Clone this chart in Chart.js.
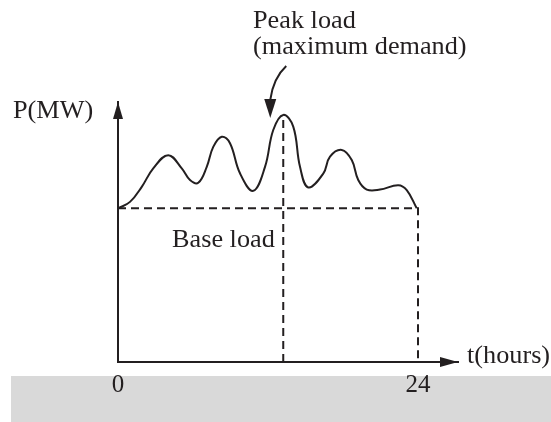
<!DOCTYPE html>
<html>
<head>
<meta charset="utf-8">
<script src="https://cdn.jsdelivr.net/npm/chart.js@4.4.1/dist/chart.umd.min.js"></script>
<style>
  html, body { margin: 0; padding: 0; background: #fff; }
  canvas { display: block; }
</style>
</head>
<body>
<canvas id="load-chart" width="551" height="422"></canvas>
<script>
// Daily load curve (P in arbitrary units, base = 50)
var hours = [0, 0.96, 1.9, 2.82, 4.02, 5.1, 5.76, 6.42, 7.1, 7.62, 8.3, 8.96, 9.76, 10.82,
             11.76, 12.42, 13.22, 14.02, 14.56, 15.22, 16.42, 16.96, 17.9, 18.7, 19.22,
             19.9, 20.96, 22.42, 23.1, 23.9];
var load  = [50, 52.1, 57.0, 63.0, 67.3, 63.0, 59.2, 58.3, 63.5, 70.0, 73.3, 71.2, 61.4, 55.7,
             63.5, 75.5, 80.4, 76.6, 63.5, 56.8, 61.3, 66.8, 69.0, 65.7, 59.2,
             56.1, 56.1, 57.5, 55.9, 50];

var baseLoad = 50;
var peakHour = 13.22;
var peakLoad = 80.4;
var dayEnd = 24;
var tickHours = [0, 24];

var ink = '#231f20';
var serif = '"Liberation Serif", "Times New Roman", serif';

// background band under the time labels
var bandPlugin = {
  id: 'band',
  beforeDraw: function(chart) {
    var c = chart.ctx;
    c.save();
    c.fillStyle = '#d9d9d9';
    c.fillRect(11, chart.chartArea.bottom + 14, chart.width - 11, chart.height);
    c.restore();
  }
};

// text a bit wider than the plain font, like the scan
function label(c, txt, x, y) {
  c.save();
  c.translate(x, y);
  c.scale(1.05, 1);
  c.fillText(txt, 0, 0);
  c.restore();
}

// axis arrows + labels
var notesPlugin = {
  id: 'notes',
  afterDraw: function(chart) {
    var c = chart.ctx;
    var a = chart.chartArea;
    var xs = chart.scales.x, ys = chart.scales.y;
    c.save();
    c.fillStyle = ink;
    c.strokeStyle = ink;

    // y arrow
    c.beginPath();
    c.moveTo(a.left, a.top);
    c.lineTo(a.left - 5, a.top + 17);
    c.lineTo(a.left + 5, a.top + 17);
    c.closePath();
    c.fill();
    // x arrow
    c.beginPath();
    c.moveTo(a.right, a.bottom);
    c.lineTo(a.right - 18, a.bottom - 5);
    c.lineTo(a.right - 18, a.bottom + 5);
    c.closePath();
    c.fill();

    // peak pointer
    var px = xs.getPixelForValue(peakHour);
    var py = ys.getPixelForValue(peakLoad);
    c.lineWidth = 2;
    c.beginPath();
    c.moveTo(px + 3, 66);
    c.quadraticCurveTo(px - 10, 78, px - 13, py - 15);
    c.stroke();
    c.beginPath();
    c.moveTo(px - 13, py + 3);
    c.lineTo(px - 19, py - 16);
    c.lineTo(px - 7, py - 16);
    c.closePath();
    c.fill();

    c.font = '25px ' + serif;
    c.textBaseline = 'alphabetic';
    c.textAlign = 'left';
    label(c, 'Peak load', 253, 28);
    label(c, '(maximum demand)', 253, 54);
    label(c, 'P(MW)', 13, 118);
    label(c, 'Base load', 172, ys.getPixelForValue(baseLoad) + 39);
    label(c, 't(hours)', a.right + 9, a.bottom + 1);
    c.restore();
  }
};

var ctx = document.getElementById('load-chart').getContext('2d');
var chart = new Chart(ctx, {
  type: 'line',
  data: {
    datasets: [{
      label: 'Load',
      data: hours.map(function(h, i) { return { x: h, y: load[i] }; }),
      borderColor: ink,
      borderWidth: 2,
      pointRadius: 0,
      tension: 0.4,
      fill: false
    }, {
      label: 'Base load',
      data: [{ x: 0, y: baseLoad }, { x: dayEnd, y: baseLoad }, { x: dayEnd, y: 0 }],
      borderColor: ink,
      borderWidth: 2,
      borderDash: [8, 5],
      pointRadius: 0,
      fill: false
    }, {
      label: 'Peak',
      data: [{ x: peakHour, y: 0 }, { x: peakHour, y: peakLoad }],
      borderColor: ink,
      borderWidth: 2,
      borderDash: [8, 5],
      pointRadius: 0,
      fill: false
    }]
  },
  options: {
    responsive: false,
    animation: false,
    layout: { padding: { left: 118, top: 102, right: 93, bottom: 14 } },
    plugins: {
      legend: { display: false },
      tooltip: { enabled: false }
    },
    scales: {
      x: {
        type: 'linear',
        min: 0,
        max: 27.2,
        grid: { display: false, drawTicks: false },
        border: { display: true, color: ink, width: 2 },
        afterBuildTicks: function(scale) {
          scale.ticks = tickHours.map(function(v) { return { value: v }; });
        },
        ticks: {
          color: ink,
          padding: 8,
          maxRotation: 0,
          font: { family: serif, size: 25 }
        }
      },
      y: {
        min: 0,
        max: 84.6,
        grid: { display: false, drawTicks: false },
        border: { display: true, color: ink, width: 2 },
        ticks: { display: false }
      }
    }
  },
  plugins: [bandPlugin, notesPlugin]
});
</script>
</body>
</html>
